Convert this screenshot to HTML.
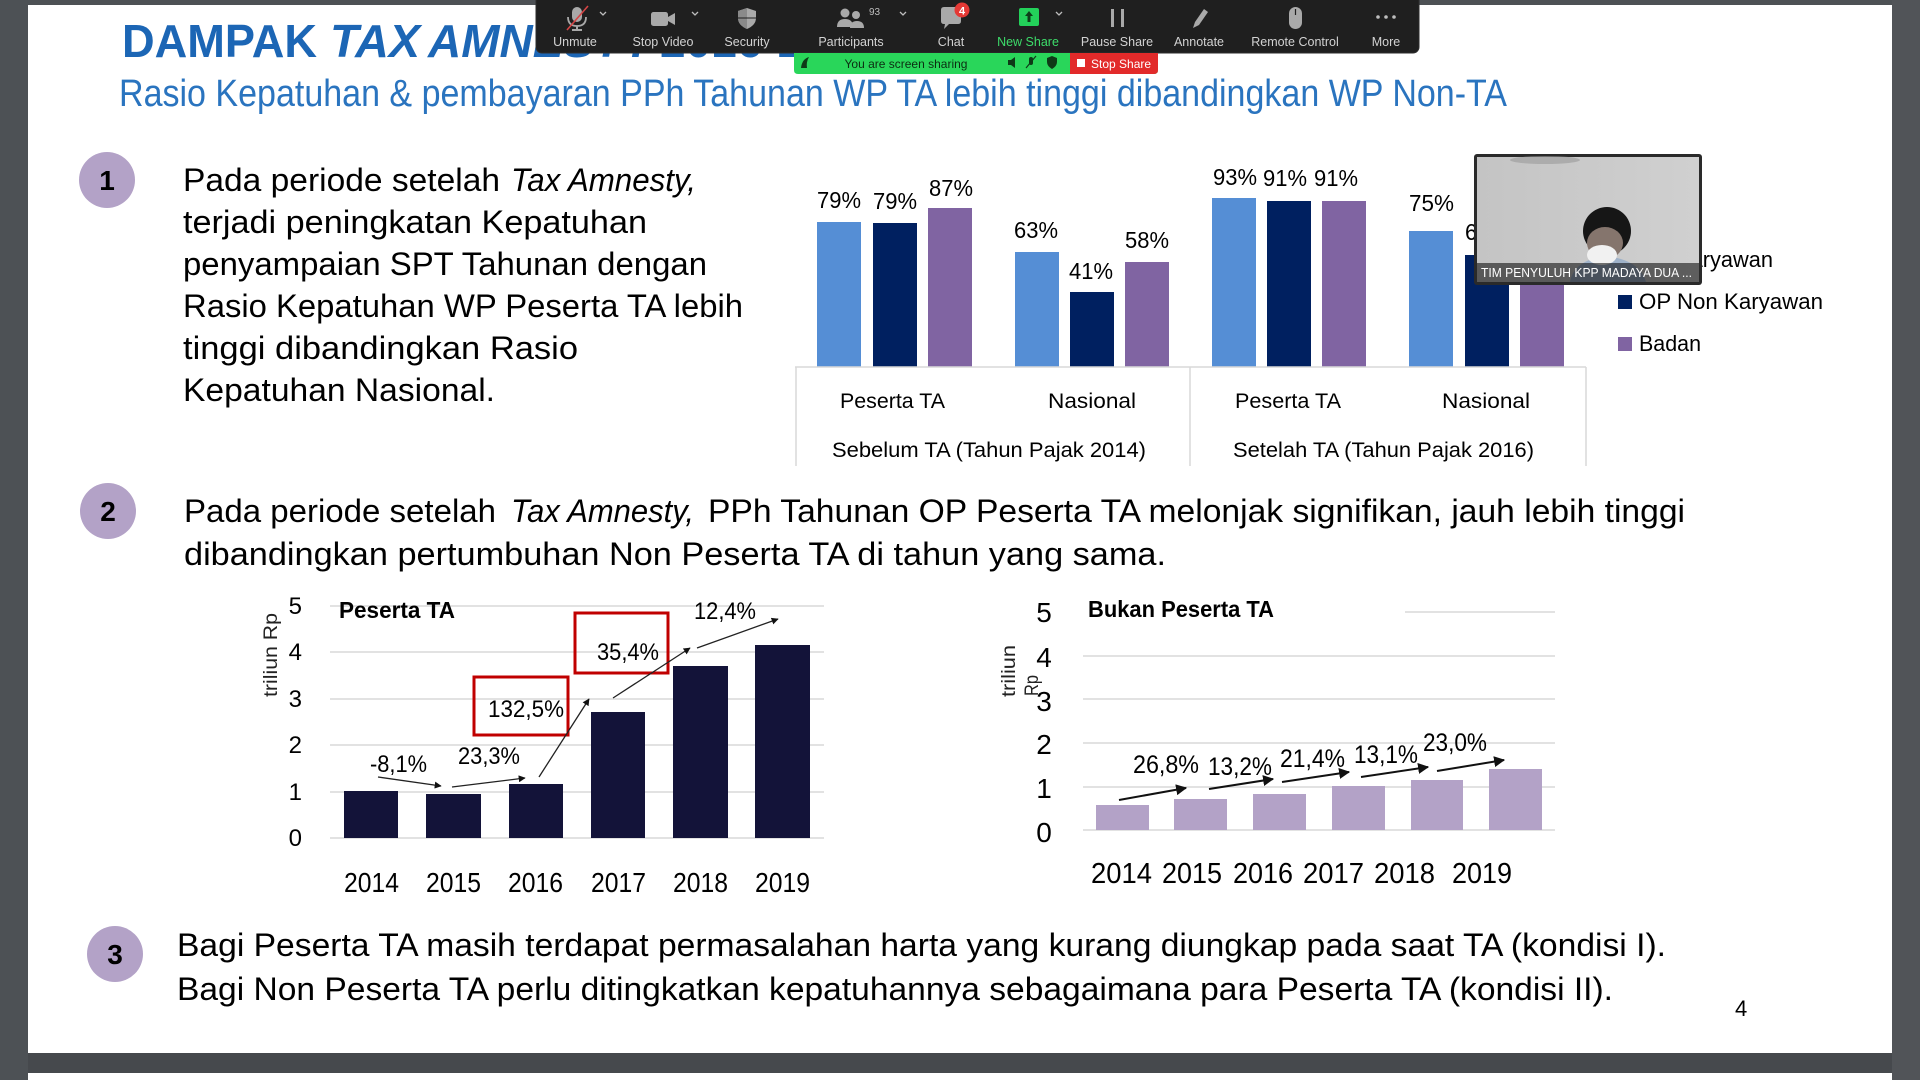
<!DOCTYPE html>
<html>
<head>
<meta charset="utf-8">
<style>
  html,body{margin:0;padding:0;background:#4d5155;}
  svg{display:block;}
  text{font-family:"Liberation Sans", sans-serif;}
</style>
</head>
<body>
<svg width="1920" height="1080" viewBox="0 0 1920 1080" xmlns="http://www.w3.org/2000/svg">
  <defs>
    <marker id="ah" viewBox="0 0 10 10" refX="9" refY="5" markerWidth="7" markerHeight="7" orient="auto" markerUnits="userSpaceOnUse">
      <path d="M0,0 L10,5 L0,10 z" fill="#111"/>
    </marker>
    <marker id="ah2" viewBox="0 0 10 10" refX="9" refY="5" markerWidth="11" markerHeight="11" orient="auto" markerUnits="userSpaceOnUse">
      <path d="M0,0 L10,5 L0,10 z" fill="#111"/>
    </marker>
    <linearGradient id="cam" x1="0" y1="0" x2="1" y2="0">
      <stop offset="0" stop-color="#c4c4c4"/>
      <stop offset="1" stop-color="#d0d0d0"/>
    </linearGradient>
  </defs>

  <!-- background -->
  <rect width="1920" height="1080" fill="#4d5155"/>
  <rect x="1892" y="0" width="28" height="1080" fill="#515458"/>
  <rect x="28" y="5" width="1864" height="1048" fill="#ffffff"/>
  <rect x="28" y="1053" width="1864" height="20" fill="#46494d"/>
  <rect x="28" y="1073" width="1864" height="7" fill="#ffffff"/>

  <!-- Title -->
  <g fill="#1c66b5" font-weight="bold" font-size="46">
    <text x="122" y="57" textLength="195" lengthAdjust="spacingAndGlyphs">DAMPAK</text>
    <text x="330" y="57" font-style="italic" textLength="90" lengthAdjust="spacingAndGlyphs">TAX</text>
    <text x="428" y="57" font-style="italic">AMNESTY</text>
    <text x="660" y="57">2016-2019</text>
  </g>
  <!-- Subtitle -->
  <text x="119" y="106" font-size="38" fill="#2a74bf" textLength="1388" lengthAdjust="spacingAndGlyphs">Rasio Kepatuhan &amp; pembayaran PPh Tahunan WP TA lebih tinggi dibandingkan WP  Non-TA</text>

  <!-- circles -->
  <g fill="#b3a2c7">
    <circle cx="107" cy="180" r="28"/>
    <circle cx="108" cy="511" r="28"/>
    <circle cx="115" cy="954" r="28"/>
  </g>
  <g font-size="28" font-weight="bold" fill="#000" text-anchor="middle">
    <text x="107" y="190">1</text>
    <text x="108" y="521">2</text>
    <text x="115" y="964">3</text>
  </g>

  <!-- Paragraph 1 -->
  <g font-size="32" fill="#000">
    <text x="183" y="191" textLength="317" lengthAdjust="spacingAndGlyphs">Pada periode setelah</text>
    <text x="511" y="191" font-style="italic" textLength="185" lengthAdjust="spacingAndGlyphs">Tax Amnesty,</text>
    <text x="183" y="233" textLength="464" lengthAdjust="spacingAndGlyphs">terjadi peningkatan Kepatuhan</text>
    <text x="183" y="275" textLength="524" lengthAdjust="spacingAndGlyphs">penyampaian SPT Tahunan dengan</text>
    <text x="183" y="317" textLength="560" lengthAdjust="spacingAndGlyphs">Rasio Kepatuhan WP Peserta TA lebih</text>
    <text x="183" y="359" textLength="395" lengthAdjust="spacingAndGlyphs">tinggi dibandingkan Rasio</text>
    <text x="183" y="401" textLength="312" lengthAdjust="spacingAndGlyphs">Kepatuhan Nasional.</text>
  </g>

  <!-- Paragraph 2 -->
  <g font-size="32" fill="#000">
    <text x="184" y="522" textLength="312" lengthAdjust="spacingAndGlyphs">Pada periode setelah</text>
    <text x="511" y="522" font-style="italic" textLength="183" lengthAdjust="spacingAndGlyphs">Tax Amnesty,</text>
    <text x="708" y="522" textLength="977" lengthAdjust="spacingAndGlyphs">PPh Tahunan OP Peserta TA melonjak signifikan, jauh lebih tinggi</text>
    <text x="184" y="565" textLength="982" lengthAdjust="spacingAndGlyphs">dibandingkan pertumbuhan Non Peserta TA di tahun yang  sama.</text>
  </g>

  <!-- Paragraph 3 -->
  <g font-size="32" fill="#000">
    <text x="177" y="956" textLength="1489" lengthAdjust="spacingAndGlyphs">Bagi Peserta TA masih terdapat permasalahan harta yang kurang diungkap pada saat TA (kondisi I).</text>
    <text x="177" y="1000" textLength="1436" lengthAdjust="spacingAndGlyphs">Bagi Non Peserta TA perlu ditingkatkan kepatuhannya sebagaimana para Peserta TA (kondisi II).</text>
  </g>
  <text x="1735" y="1016" font-size="22" fill="#000">4</text>

  <!-- ===== Chart 1 ===== -->
  <g>
    <rect x="817" y="222" width="44" height="145" fill="#558ed5"/>
    <rect x="873" y="223" width="44" height="144" fill="#002060"/>
    <rect x="928" y="208" width="44" height="159" fill="#8064a2"/>
    <rect x="1015" y="252" width="44" height="115" fill="#558ed5"/>
    <rect x="1070" y="292" width="44" height="75" fill="#002060"/>
    <rect x="1125" y="262" width="44" height="105" fill="#8064a2"/>
    <rect x="1212" y="198" width="44" height="169" fill="#558ed5"/>
    <rect x="1267" y="201" width="44" height="166" fill="#002060"/>
    <rect x="1322" y="201" width="44" height="166" fill="#8064a2"/>
    <rect x="1409" y="231" width="44" height="136" fill="#558ed5"/>
    <rect x="1465" y="255" width="44" height="112" fill="#002060"/>
    <rect x="1520" y="270" width="44" height="97" fill="#8064a2"/>
  </g>
  <g font-size="23" fill="#000">
    <text x="817" y="208" textLength="44" lengthAdjust="spacingAndGlyphs">79%</text>
    <text x="873" y="209" textLength="44" lengthAdjust="spacingAndGlyphs">79%</text>
    <text x="929" y="196" textLength="44" lengthAdjust="spacingAndGlyphs">87%</text>
    <text x="1014" y="238" textLength="44" lengthAdjust="spacingAndGlyphs">63%</text>
    <text x="1069" y="279" textLength="44" lengthAdjust="spacingAndGlyphs">41%</text>
    <text x="1125" y="248" textLength="44" lengthAdjust="spacingAndGlyphs">58%</text>
    <text x="1213" y="185" textLength="44" lengthAdjust="spacingAndGlyphs">93%</text>
    <text x="1263" y="186" textLength="44" lengthAdjust="spacingAndGlyphs">91%</text>
    <text x="1314" y="186" textLength="44" lengthAdjust="spacingAndGlyphs">91%</text>
    <text x="1409" y="211" textLength="45" lengthAdjust="spacingAndGlyphs">75%</text>
    <text x="1465" y="240" textLength="44" lengthAdjust="spacingAndGlyphs">61%</text>
    <text x="1520" y="256" textLength="44" lengthAdjust="spacingAndGlyphs">52%</text>
  </g>
  <g stroke="#d9d9d9" stroke-width="1.5">
    <line x1="795" y1="367" x2="1586" y2="367"/>
    <line x1="796" y1="367" x2="796" y2="466"/>
    <line x1="1190" y1="367" x2="1190" y2="466"/>
    <line x1="1586" y1="367" x2="1586" y2="466"/>
  </g>
  <g font-size="21" fill="#000">
    <text x="840" y="408" textLength="105" lengthAdjust="spacingAndGlyphs">Peserta TA</text>
    <text x="1048" y="408" textLength="88" lengthAdjust="spacingAndGlyphs">Nasional</text>
    <text x="1235" y="408" textLength="106" lengthAdjust="spacingAndGlyphs">Peserta TA</text>
    <text x="1442" y="408" textLength="88" lengthAdjust="spacingAndGlyphs">Nasional</text>
    <text x="832" y="457" textLength="314" lengthAdjust="spacingAndGlyphs">Sebelum TA (Tahun Pajak 2014)</text>
    <text x="1233" y="457" textLength="301" lengthAdjust="spacingAndGlyphs">Setelah TA (Tahun Pajak 2016)</text>
  </g>
  <!-- legend -->
  <rect x="1618" y="253" width="14" height="14" fill="#558ed5"/>
  <rect x="1618" y="295" width="14" height="14" fill="#002060"/>
  <rect x="1618" y="337" width="14" height="14" fill="#8064a2"/>
  <g font-size="22" fill="#000">
    <text x="1639" y="267" textLength="134" lengthAdjust="spacingAndGlyphs">OP Karyawan</text>
    <text x="1639" y="309" textLength="184" lengthAdjust="spacingAndGlyphs">OP Non Karyawan</text>
    <text x="1639" y="351" textLength="62" lengthAdjust="spacingAndGlyphs">Badan</text>
  </g>

  <!-- webcam -->
  <g>
    <rect x="1474" y="154" width="228" height="131" rx="3" fill="#2a2a2a"/>
    <rect x="1477" y="157" width="222" height="125" fill="url(#cam)"/>
    <ellipse cx="1545" cy="160" rx="35" ry="4" fill="#9a9a9a" opacity="0.6"/>
    <path d="M1570 282 Q1574 260 1606 256 Q1640 260 1646 282 Z" fill="#9fb2c9"/>
    <ellipse cx="1607" cy="231" rx="24" ry="24" fill="#161616"/>
    <ellipse cx="1605" cy="243" rx="18" ry="16" fill="#85756d"/>
    <ellipse cx="1602" cy="255" rx="15" ry="10" fill="#f1f1f1"/>
    <rect x="1477" y="263" width="222" height="19" fill="#000" opacity="0.55"/>
    <text x="1481" y="277" font-size="12.5" fill="#ffffff" textLength="211" lengthAdjust="spacingAndGlyphs">TIM PENYULUH KPP MADAYA DUA ...</text>
  </g>

  <!-- ===== Chart 2: Peserta TA ===== -->
  <g stroke="#d9d9d9" stroke-width="1.5">
    <line x1="330" y1="606" x2="824" y2="606"/>
    <line x1="330" y1="652" x2="824" y2="652"/>
    <line x1="330" y1="699" x2="824" y2="699"/>
    <line x1="330" y1="745" x2="824" y2="745"/>
    <line x1="330" y1="792" x2="824" y2="792"/>
    <line x1="330" y1="838" x2="824" y2="838"/>
  </g>
  <g fill="#131339">
    <rect x="344" y="791" width="54" height="47"/>
    <rect x="426" y="794" width="55" height="44"/>
    <rect x="509" y="784" width="54" height="54"/>
    <rect x="591" y="712" width="54" height="126"/>
    <rect x="673" y="666" width="55" height="172"/>
    <rect x="755" y="645" width="55" height="193"/>
  </g>
  <g font-size="24" fill="#000" text-anchor="end">
    <text x="302" y="614">5</text>
    <text x="302" y="660">4</text>
    <text x="302" y="707">3</text>
    <text x="302" y="753">2</text>
    <text x="302" y="800">1</text>
    <text x="302" y="846">0</text>
  </g>
  <text transform="translate(277,697) rotate(-90)" font-size="19" fill="#222" textLength="84" lengthAdjust="spacingAndGlyphs">triliun Rp</text>
  <text x="339" y="618" font-size="23" font-weight="bold" fill="#000" textLength="116" lengthAdjust="spacingAndGlyphs">Peserta TA</text>
  <g font-size="28" fill="#000">
    <text x="344" y="892" textLength="55" lengthAdjust="spacingAndGlyphs">2014</text>
    <text x="426" y="892" textLength="55" lengthAdjust="spacingAndGlyphs">2015</text>
    <text x="508" y="892" textLength="55" lengthAdjust="spacingAndGlyphs">2016</text>
    <text x="591" y="892" textLength="55" lengthAdjust="spacingAndGlyphs">2017</text>
    <text x="673" y="892" textLength="55" lengthAdjust="spacingAndGlyphs">2018</text>
    <text x="755" y="892" textLength="55" lengthAdjust="spacingAndGlyphs">2019</text>
  </g>
  <rect x="474" y="677" width="94" height="58" fill="none" stroke="#c00000" stroke-width="3"/>
  <rect x="575" y="613" width="93" height="60" fill="none" stroke="#c00000" stroke-width="3"/>
  <g font-size="24" fill="#000">
    <text x="370" y="772" textLength="57" lengthAdjust="spacingAndGlyphs">-8,1%</text>
    <text x="458" y="764" textLength="62" lengthAdjust="spacingAndGlyphs">23,3%</text>
    <text x="488" y="717" textLength="76" lengthAdjust="spacingAndGlyphs">132,5%</text>
    <text x="597" y="660" textLength="62" lengthAdjust="spacingAndGlyphs">35,4%</text>
    <text x="694" y="619" textLength="62" lengthAdjust="spacingAndGlyphs">12,4%</text>
  </g>
  <g stroke="#222" stroke-width="1.3" fill="none">
    <line x1="378" y1="777" x2="441" y2="786" marker-end="url(#ah)"/>
    <line x1="452" y1="787" x2="525" y2="778" marker-end="url(#ah)"/>
    <line x1="539" y1="777" x2="589" y2="699" marker-end="url(#ah)"/>
    <line x1="613" y1="698" x2="690" y2="648" marker-end="url(#ah)"/>
    <line x1="697" y1="648" x2="778" y2="619" marker-end="url(#ah)"/>
  </g>

  <!-- ===== Chart 3: Bukan Peserta TA ===== -->
  <g stroke="#d9d9d9" stroke-width="1.5">
    <line x1="1405" y1="612" x2="1555" y2="612"/>
    <line x1="1083" y1="656" x2="1555" y2="656"/>
    <line x1="1083" y1="699" x2="1555" y2="699"/>
    <line x1="1083" y1="743" x2="1555" y2="743"/>
    <line x1="1083" y1="787" x2="1555" y2="787"/>
    <line x1="1083" y1="830" x2="1555" y2="830"/>
  </g>
  <g fill="#b3a2c7">
    <rect x="1096" y="805" width="53" height="25"/>
    <rect x="1174" y="799" width="53" height="31"/>
    <rect x="1253" y="794" width="53" height="36"/>
    <rect x="1332" y="786" width="53" height="44"/>
    <rect x="1411" y="780" width="52" height="50"/>
    <rect x="1489" y="769" width="53" height="61"/>
  </g>
  <g font-size="28" fill="#000" text-anchor="middle">
    <text x="1044" y="622">5</text>
    <text x="1044" y="667">4</text>
    <text x="1044" y="711">3</text>
    <text x="1044" y="754">2</text>
    <text x="1044" y="798">1</text>
    <text x="1044" y="842">0</text>
  </g>
  <text transform="translate(1015,697) rotate(-90)" font-size="19" fill="#222" textLength="52" lengthAdjust="spacingAndGlyphs">triliun</text>
  <text transform="translate(1038,696) rotate(-90)" font-size="19" fill="#222" textLength="21" lengthAdjust="spacingAndGlyphs">Rp</text>
  <text x="1088" y="617" font-size="23" font-weight="bold" fill="#000" textLength="186" lengthAdjust="spacingAndGlyphs">Bukan Peserta TA</text>
  <g font-size="29" fill="#000">
    <text x="1091" y="883" textLength="61" lengthAdjust="spacingAndGlyphs">2014</text>
    <text x="1162" y="883" textLength="60" lengthAdjust="spacingAndGlyphs">2015</text>
    <text x="1233" y="883" textLength="60" lengthAdjust="spacingAndGlyphs">2016</text>
    <text x="1303" y="883" textLength="61" lengthAdjust="spacingAndGlyphs">2017</text>
    <text x="1374" y="883" textLength="61" lengthAdjust="spacingAndGlyphs">2018</text>
    <text x="1452" y="883" textLength="60" lengthAdjust="spacingAndGlyphs">2019</text>
  </g>
  <g font-size="25" fill="#000">
    <text x="1133" y="773" textLength="66" lengthAdjust="spacingAndGlyphs">26,8%</text>
    <text x="1208" y="775" textLength="64" lengthAdjust="spacingAndGlyphs">13,2%</text>
    <text x="1280" y="767" textLength="65" lengthAdjust="spacingAndGlyphs">21,4%</text>
    <text x="1354" y="763" textLength="64" lengthAdjust="spacingAndGlyphs">13,1%</text>
    <text x="1423" y="751" textLength="64" lengthAdjust="spacingAndGlyphs">23,0%</text>
  </g>
  <g stroke="#111" stroke-width="2" fill="none">
    <line x1="1119" y1="800" x2="1186" y2="788" marker-end="url(#ah2)"/>
    <line x1="1209" y1="789" x2="1273" y2="779" marker-end="url(#ah2)"/>
    <line x1="1282" y1="782" x2="1349" y2="772" marker-end="url(#ah2)"/>
    <line x1="1361" y1="777" x2="1428" y2="767" marker-end="url(#ah2)"/>
    <line x1="1437" y1="771" x2="1504" y2="760" marker-end="url(#ah2)"/>
  </g>

  <!-- ===== Zoom toolbar ===== -->
  <rect x="536" y="-6" width="883" height="59" rx="6" fill="#1f1f1f" stroke="#2e2e2e" stroke-width="1"/>
  <g fill="#a9a9a9">
    <rect x="572" y="7" width="10" height="15" rx="5"/>
    <path d="M568 17 Q568 26 577 26 Q586 26 586 17" fill="none" stroke="#a9a9a9" stroke-width="1.8"/>
    <rect x="576" y="26" width="2" height="4"/>
    <rect x="572" y="29" width="10" height="2"/>
  </g>
  <line x1="567" y1="30" x2="588" y2="6" stroke="#d64545" stroke-width="1.6"/>
  <g fill="none" stroke="#bdbdbd" stroke-width="1.3">
    <path d="M600 12 L603 15 L606 12"/>
    <path d="M692 12 L695 15 L698 12"/>
    <path d="M900 12 L903 15 L906 12"/>
    <path d="M1056 12 L1059 15 L1062 12"/>
  </g>
  <rect x="651" y="12" width="17" height="14" rx="2.5" fill="#a9a9a9"/>
  <path d="M668 17 L675 13 L675 25 L668 21 Z" fill="#a9a9a9"/>
  <path d="M747 8 L756 11 L756 18 Q756 25 747 29 Q738 25 738 18 L738 11 Z" fill="#a9a9a9"/>
  <path d="M747 8 L747 29 Q738 25 738 18 L738 11 Z" fill="#8a8a8a"/>
  <path d="M738 18 L756 18" stroke="#1f1f1f" stroke-width="1"/>
  <g fill="#a9a9a9">
    <circle cx="845" cy="13" r="4.5"/>
    <path d="M837 27 Q837 19 845 19 Q853 19 853 27 Z"/>
    <circle cx="856" cy="15" r="4"/>
    <path d="M850 28 Q850 21 857 21 Q864 21 864 28 Z"/>
  </g>
  <text x="869" y="15" font-size="10" fill="#bdbdbd">93</text>
  <path d="M941 10 Q941 7 944 7 L958 7 Q961 7 961 10 L961 21 Q961 24 958 24 L949 24 L944 29 L945 24 L944 24 Q941 24 941 21 Z" fill="#a9a9a9"/>
  <circle cx="962" cy="10" r="7.5" fill="#e53935"/>
  <text x="962" y="14.5" font-size="11" fill="#fff" text-anchor="middle" font-weight="bold">4</text>
  <rect x="1019" y="8" width="20" height="18" rx="2" fill="#23d15a"/>
  <path d="M1029 11 L1033 16 L1030.5 16 L1030.5 22 L1027.5 22 L1027.5 16 L1025 16 Z" fill="#0f3d1a"/>
  <rect x="1111" y="9" width="3" height="18" fill="#a9a9a9"/>
  <rect x="1121" y="9" width="3" height="18" fill="#a9a9a9"/>
  <path d="M1193 28 L1195 22 L1204 9 L1208 12 L1199 25 Z" fill="#a9a9a9"/>
  <rect x="1289" y="7" width="13" height="22" rx="6.5" fill="#a9a9a9"/>
  <line x1="1295.5" y1="9" x2="1295.5" y2="15" stroke="#1f1f1f" stroke-width="1.2"/>
  <g fill="#bdbdbd">
    <circle cx="1378" cy="17" r="1.8"/>
    <circle cx="1386" cy="17" r="1.8"/>
    <circle cx="1394" cy="17" r="1.8"/>
  </g>
  <g font-size="12.5" fill="#d2d2d2" text-anchor="middle">
    <text x="575" y="46">Unmute</text>
    <text x="663" y="46">Stop Video</text>
    <text x="747" y="46">Security</text>
    <text x="851" y="46">Participants</text>
    <text x="951" y="46">Chat</text>
    <text x="1028" y="46" fill="#3ddc6a">New Share</text>
    <text x="1117" y="46">Pause Share</text>
    <text x="1199" y="46">Annotate</text>
    <text x="1295" y="46">Remote Control</text>
    <text x="1386" y="46">More</text>
  </g>

  <!-- screen sharing bar -->
  <path d="M794 53 L1158 53 L1158 70 Q1158 74 1154 74 L798 74 Q794 74 794 70 Z" fill="#29d65a"/>
  <path d="M1070 53 L1158 53 L1158 70 Q1158 74 1154 74 L1070 74 Z" fill="#e22a2a"/>
  <path d="M801 68 Q802 59 809 57 Q806 62 807 68 Z" fill="#0e3a17"/>
  <text x="906" y="68" font-size="12" fill="#0c2d12" text-anchor="middle">You are screen sharing</text>
  <g fill="#0e3a17">
    <path d="M1008 60 L1011 60 L1015 57 L1015 68 L1011 65 L1008 65 Z"/>
    <rect x="1029" y="57" width="4" height="8" rx="2"/>
    <path d="M1052 56 L1057 58 L1057 62 Q1057 66 1052 69 Q1047 66 1047 62 L1047 58 Z"/>
  </g>
  <line x1="1026" y1="68" x2="1036" y2="56" stroke="#0e3a17" stroke-width="1.2"/>
  <rect x="1077" y="59" width="8" height="8" fill="#ffffff"/>
  <text x="1091" y="68" font-size="12" fill="#ffffff">Stop Share</text>
</svg>
</body>
</html>
